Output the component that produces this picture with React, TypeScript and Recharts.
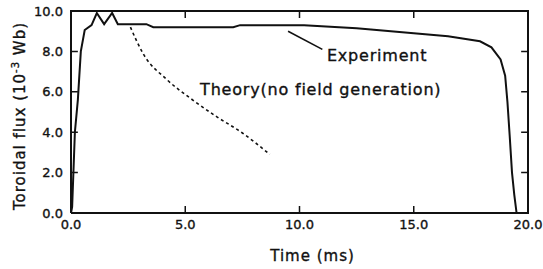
import React from 'react';
import { LineChart, Line, XAxis, YAxis, ReferenceLine, ReferenceDot } from 'recharts';

const experimentTime = [0, 0.05, 0.17, 0.3, 0.43, 0.6, 0.9, 1.13, 1.45, 1.8, 2.05, 3.3, 3.6, 7.1, 7.4, 10.2, 12.5, 15.0, 16.5, 17.9, 18.4, 18.8, 19.0, 19.1, 19.2, 19.3, 19.4, 19.5];
const experimentFlux = [0, 0.3, 4.0, 5.6, 8.0, 9.06, 9.3, 9.9, 9.35, 9.9, 9.35, 9.35, 9.2, 9.2, 9.3, 9.3, 9.15, 8.9, 8.75, 8.5, 8.2, 7.6, 6.8, 5.5, 3.8, 2.0, 0.9, 0];

const theoryTime = [2.6, 3.15, 4.2, 5.2, 6.4, 7.5, 8.7];
const theoryFlux = [9.2, 7.9, 6.6, 5.7, 4.75, 3.96, 2.9];

const xTicks = [0, 5, 10, 15, 20];
const yTicks = [0, 2, 4, 6, 8, 10];
const xInnerTicks = [5, 10, 15];
const yInnerTicks = [2, 4, 6, 8];
const xDomain = [0, 20];
const yDomain = [0, 10];

const experimentLabel = 'Experiment';
const theoryLabel = 'Theory(no field generation)';
const xTitle = 'Time (ms)';

const experimentData = experimentTime.map((t, i) => ({ t, v: experimentFlux[i] }));
const theoryData = theoryTime.map((t, i) => ({ t, v: theoryFlux[i] }));

const FONT = '"DejaVu Sans", sans-serif';
const INK = '#111';
const TICK_DX = 0.3;
const TICK_DY = 0.35;

const [X0, X1] = xDomain;
const [Y0, Y1] = yDomain;

// plot frame built from the axis domains
const frameData = [
  { t: X0, v: Y0 },
  { t: X1, v: Y0 },
  { t: X1, v: Y1 },
  { t: X0, v: Y1 },
  { t: X0, v: Y0 },
];

// inward tick marks built from the tick arrays, separated by null gaps
const tickData: { t: number; v: number | null }[] = [];
xInnerTicks.forEach((t) => {
  tickData.push({ t, v: Y0 }, { t, v: Y0 + TICK_DY }, { t, v: null });
  tickData.push({ t, v: Y1 }, { t, v: Y1 - TICK_DY }, { t, v: null });
});
yInnerTicks.forEach((v) => {
  tickData.push({ t: X0, v }, { t: X0 + TICK_DX, v }, { t: X0, v: null });
  tickData.push({ t: X1, v }, { t: X1 - TICK_DX, v }, { t: X1, v: null });
});

const fmt = (v: number) => v.toFixed(1);

const textStyle = { fontFamily: FONT, fill: INK, stroke: INK, strokeWidth: 0.35 } as const;

const annText = (text: string) => (props: any) => {
  const vb = props.viewBox || {};
  return (
    <text x={vb.x} y={vb.y} dy="0.35em" fontSize={16} letterSpacing={0.8} textAnchor="start" {...textStyle}>
      {text}
    </text>
  );
};

export default function App() {
  return (
    <div style={{ position: 'absolute', left: 0, top: 0, background: '#fff' }}>
      <LineChart width={543} height={269} margin={{ top: 11, right: 15, bottom: 0, left: 0 }}>
        <XAxis
          dataKey="t"
          type="number"
          domain={xDomain}
          ticks={xTicks}
          tickFormatter={fmt}
          height={56}
          axisLine={false}
          tickLine={false}
          tickSize={0}
          tickMargin={7}
          interval={0}
          tick={{ fontSize: 13, ...textStyle }}
          label={{
            content: (p: any) => {
              const vb = p.viewBox;
              return (
                <text x={vb.x + vb.width / 2 + 13} y={256} dy="0.35em" fontSize={15} letterSpacing={1} textAnchor="middle" {...textStyle}>
                  {xTitle}
                </text>
              );
            },
          }}
        />
        <YAxis
          type="number"
          domain={yDomain}
          ticks={yTicks}
          tickFormatter={fmt}
          width={71}
          axisLine={false}
          tickLine={false}
          tickSize={0}
          tickMargin={8}
          interval={0}
          tick={{ fontSize: 13, ...textStyle }}
          label={{
            content: (p: any) => {
              const vb = p.viewBox;
              const cy = vb.y + vb.height / 2 + 4;
              return (
                <text x={20} y={cy} dy="0.35em" transform={`rotate(-90 20 ${cy})`} fontSize={15} letterSpacing={1} textAnchor="middle" {...textStyle}>
                  Toroidal flux (10<tspan dy={-6} fontSize={10}>-3</tspan><tspan dy={6}> Wb)</tspan>
                </text>
              );
            },
          }}
        />
        <Line
          data={frameData}
          dataKey="v"
          type="linear"
          stroke={INK}
          strokeWidth={2}
          dot={false}
          activeDot={false}
          isAnimationActive={false}
        />
        <Line
          data={tickData}
          dataKey="v"
          type="linear"
          stroke={INK}
          strokeWidth={1.5}
          connectNulls={false}
          dot={false}
          activeDot={false}
          isAnimationActive={false}
        />
        <Line
          data={experimentData}
          dataKey="v"
          type="linear"
          stroke={INK}
          strokeWidth={2}
          dot={false}
          isAnimationActive={false}
        />
        <Line
          data={theoryData}
          dataKey="v"
          type="monotone"
          stroke={INK}
          strokeWidth={1.6}
          strokeDasharray="3 3"
          dot={false}
          isAnimationActive={false}
        />
        <ReferenceLine segment={[{ x: 9.5, y: 9.0 }, { x: 11.0, y: 8.1 }]} stroke={INK} strokeWidth={1.6} />
        <ReferenceDot x={11.2} y={7.8} r={0} fill="none" stroke="none" label={{ content: annText(experimentLabel) }} />
        <ReferenceDot x={5.65} y={6.1} r={0} fill="none" stroke="none" label={{ content: annText(theoryLabel) }} />
      </LineChart>
    </div>
  );
}
